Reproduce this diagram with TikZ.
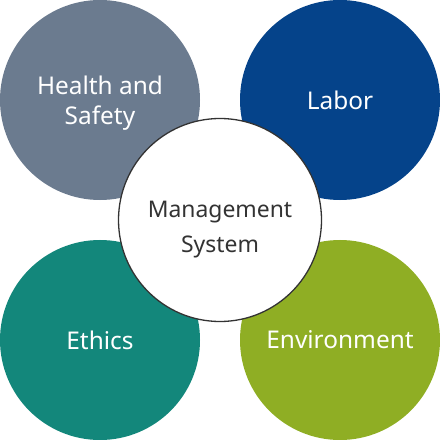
\documentclass[tikz,border=0pt]{standalone}
\usepackage{fontspec}
\setmainfont{Noto Sans}
\definecolor{hsgray}{HTML}{6B7B8F}
\definecolor{laborblue}{HTML}{05438A}
\definecolor{ethicsteal}{HTML}{13877B}
\definecolor{envgreen}{HTML}{8FAE24}
\definecolor{msdark}{HTML}{333333}
\begin{document}
\begin{tikzpicture}[x=1bp,y=-1bp,
	topic/.style={circle,minimum size=200bp,inner sep=0pt,text=white,align=center,text depth=0pt,font=\fontsize{24.5}{30}\selectfont},
	core/.style={circle,minimum size=203bp,inner sep=0pt,fill=white,draw=msdark,line width=1.3bp},
	coretext/.style={inner sep=0pt,text=msdark,align=center,font=\fontsize{23}{35}\selectfont}]

	\useasboundingbox (0,0) rectangle (440,440);

	% Themen
	\node[topic,fill=hsgray]     (health) at (100,100) {Health and\\Safety};
	\node[topic,fill=laborblue]  (labor)  at (340,100) {Labor};
	\node[topic,fill=ethicsteal] (ethics) at (100,340) {Ethics};
	\node[topic,fill=envgreen]   (env)    at (340,340) {Environment};

	% Mitte
	\node[core] (ms) at (220,220) {};
	\node[coretext] (mstext) at (220,230) {Management\\System};

\end{tikzpicture}
\end{document}
